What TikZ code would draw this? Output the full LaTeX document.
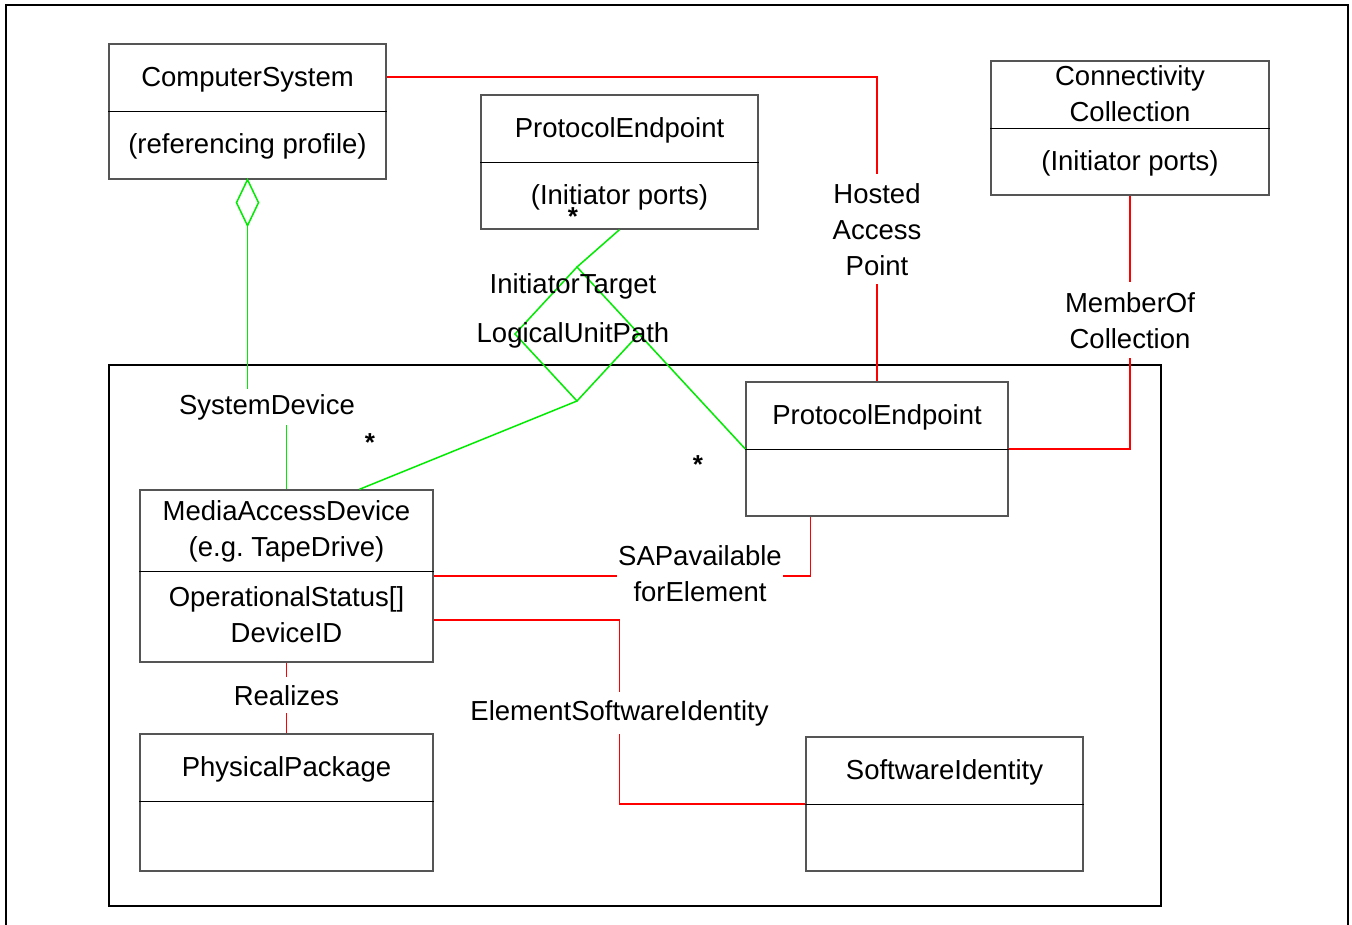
\documentclass[tikz,border=0pt]{standalone}
\usepackage{fontspec}
\setmainfont{Liberation Sans}
\usetikzlibrary{calc}
\frenchspacing

\definecolor{assocred}{RGB}{255,0,0}
\definecolor{aggrgreen}{RGB}{0,235,0}
\definecolor{boxgray}{RGB}{85,85,85}

\begin{document}
\begin{tikzpicture}[x=1pt,y=-1pt,
  lbl/.style={font=\fontsize{27.5pt}{36pt}\selectfont, align=center, inner sep=0pt, anchor=base},
  gaplbl/.style={lbl, fill=white, inner sep=8pt},
  starlbl/.style={font=\fontsize{26pt}{30pt}\selectfont\bfseries, inner sep=0pt},
  classbox/.style={draw=boxgray, line width=1.3pt, fill=white, inner sep=0pt},
  divider/.style={draw=black, line width=1pt},
  assoc/.style={draw=assocred, line width=1.3pt},
  aggr/.style={draw=aggrgreen, line width=1.5pt},
  frame/.style={draw=black, line width=2.2pt}]

\useasboundingbox (0,0) rectangle (1352,924);
\clip (0,0) rectangle (1352,924);

% page frame and the package boundary
\draw[frame] (6,5) rectangle (1348,940);
\draw[frame, line width=2.6pt] (109,365) rectangle (1161,906);

% class boxes
\node[classbox, minimum width=277pt, minimum height=135pt] (cs)  at (247.5,111.5) {};
\node[classbox, minimum width=277pt, minimum height=134pt] (pe1) at (619.5,162) {};
\node[classbox, minimum width=278pt, minimum height=134pt] (cc)  at (1130,128) {};
\node[classbox, minimum width=262pt, minimum height=134pt] (pe2) at (877,449) {};
\node[classbox, minimum width=293pt, minimum height=172pt] (mad) at (286.5,576) {};
\node[classbox, minimum width=293pt, minimum height=137pt] (pp)  at (286.5,802.5) {};
\node[classbox, minimum width=277pt, minimum height=134pt] (sw)  at (944.5,804) {};

% compartment dividers
\draw[divider] (cs.west |- 0,111) -- (cs.east |- 0,111);
\draw[divider] (pe1.west) -- (pe1.east);
\draw[divider] (cc.west) -- (cc.east);
\draw[divider] (pe2.west) -- (pe2.east);
\draw[divider] (mad.west |- 0,571) -- (mad.east |- 0,571);
\draw[divider] (pp.west |- 0,801) -- (pp.east |- 0,801);
\draw[divider] (sw.west) -- (sw.east);

% class texts (base = baseline of the last line)
\node[lbl] (cs-name) at (247.5,86) {ComputerSystem};
\node[lbl] (cs-attr) at (247.5,153) {(referencing profile)};
\node[lbl] (pe1-name) at (619.5,137) {ProtocolEndpoint};
\node[lbl] (pe1-attr) at (619.5,204) {(Initiator ports)};
\node[lbl] (cc-name) at (1130,121) {Connectivity\\Collection};
\node[lbl] (cc-attr) at (1130,170) {(Initiator ports)};
\node[lbl] (pe2-name) at (877,424) {ProtocolEndpoint};
\node[lbl] (mad-name) at (286.5,556) {MediaAccessDevice\\(e.g. TapeDrive)};
\node[lbl] (mad-attr) at (286.5,642) {OperationalStatus[]\\DeviceID};
\node[lbl] (pp-name) at (286.5,776) {PhysicalPackage};
\node[lbl] (sw-name) at (944.5,779) {SoftwareIdentity};

% association connection points
\coordinate (csR) at (cs.east |- 0,77);
\coordinate (sapB) at ($(pe2.south west)+(65,0)$);
\coordinate (esiA) at (mad.east |- 0,620);
\coordinate (esiB) at (sw.west);
\coordinate (esiM) at ($(esiA)!0.5!(esiB)$);

% red associations
\draw[assoc] (csR) -| (pe2.north);
\draw[assoc] (cc.south) |- (pe2.east);
\draw[assoc] (mad.east) -| (sapB);
\draw[assoc] (esiA) -| (esiM) |- (esiB);
\draw[assoc] (mad.south) -- (pp.north);

% aggregation ComputerSystem -- MediaAccessDevice
\coordinate (csDia) at ($(cs.south)+(0,46)$);
\coordinate (sdJog) at (267,404);
\draw[aggr] (cs.south) -- ++(11,23) -- (csDia) -- ++(-11,-23) -- cycle;
\draw[aggr] (csDia) |- (sdJog) -| (mad.north);

% ternary InitiatorTargetLogicalUnitPath diamond
\coordinate (dT) at (577,267);
\coordinate (dR) at (639,334);
\coordinate (dB) at (577,401);
\coordinate (dL) at (515,334);
\coordinate (madG) at ($(mad.north west)+(220,0)$);
\draw[aggr] (dT) -- (dR) -- (dB) -- (dL) -- cycle;
\draw[aggr] (pe1.south) -- (dT);
\draw[aggr] (dR) -- (pe2.west);
\draw[aggr] (dB) -- (madG);

% association labels
\node[gaplbl, inner sep=5pt] (sysdev) at (267,414) {SystemDevice};
\node[gaplbl, inner ysep=9pt] (hap) at (877,275) {Hosted\\Access\\Point};
\node[gaplbl, inner ysep=10pt] (moc) at (1130,348) {MemberOf\\Collection};
\node[gaplbl, inner xsep=1pt, inner ysep=4pt] (sap) at (700,601) {SAPavailable\\forElement};
\node[gaplbl, inner xsep=2pt] (esi) at (esiM |- 0,720) {ElementSoftwareIdentity};
\node[gaplbl, inner xsep=2pt] (real) at (286.5,705) {Realizes};
\node[lbl] (itlup1) at (573,293) {InitiatorTarget};
\node[lbl] (itlup2) at (573,342) {LogicalUnitPath};

% multiplicities
\node[starlbl] (st1) at (573,217) {*};
\node[starlbl] (st2) at (370,443) {*};
\node[starlbl] (st3) at (698,465) {*};
\end{tikzpicture}
\end{document}
